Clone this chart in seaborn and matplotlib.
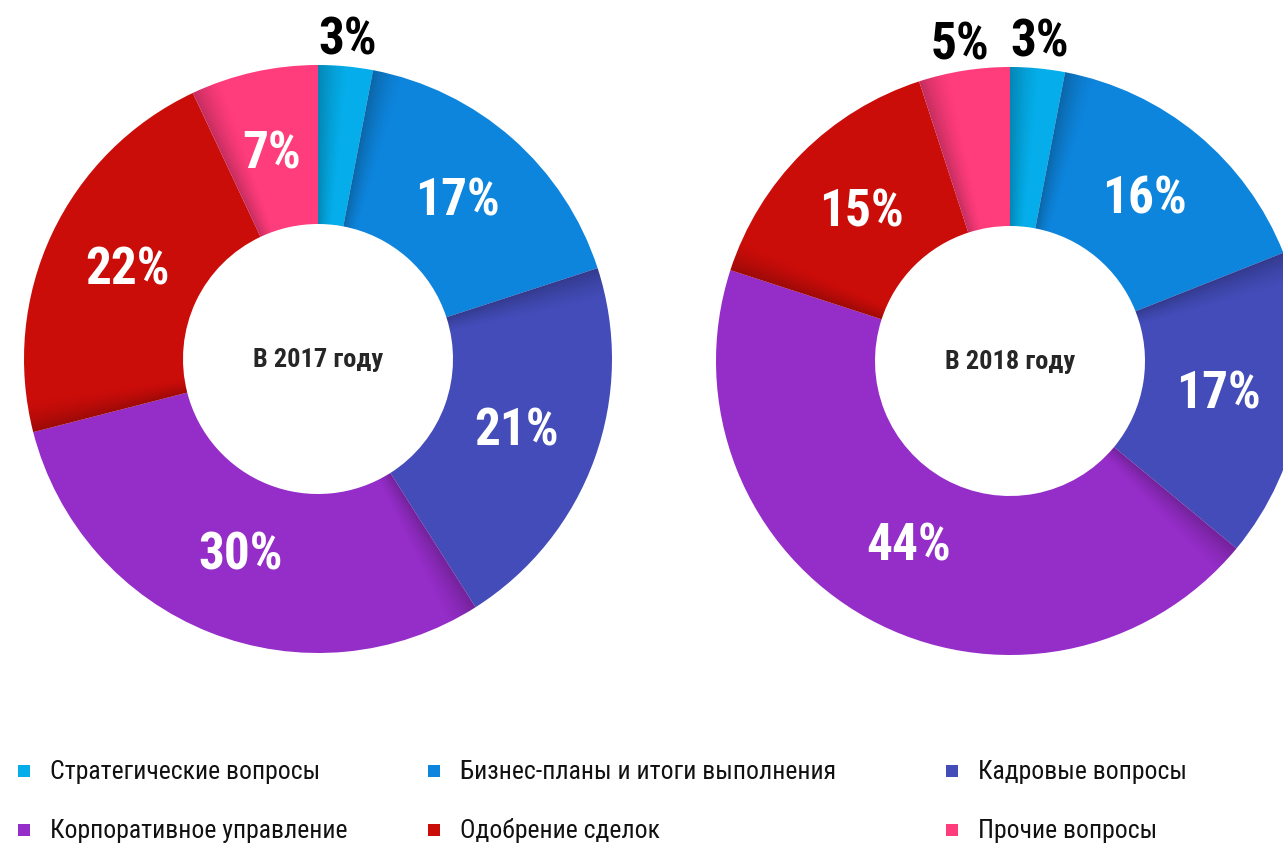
#!/usr/bin/env python3
"""
Board agenda structure 2017 vs 2018 — two donut charts
"""

import numpy as np
import matplotlib
matplotlib.use('Agg')
import matplotlib.pyplot as plt
from matplotlib.patches import Wedge
import seaborn as sns

# Data
categories = [
    'Стратегические вопросы', 'Бизнес-планы и итоги выполнения', 'Кадровые вопросы',
    'Корпоративное управление', 'Одобрение сделок', 'Прочие вопросы',
]
shares_2017 = [3, 17, 21, 30, 22, 7]
shares_2018 = [3, 16, 17, 44, 15, 5]
titles = ['В 2017 году', 'В 2018 году']
colors = ['#05aeea', '#0e85dc', '#434cb8', '#952dc8', '#cb0d0a', '#ff3c7c']

sns.set_style('white')
FONT = ['Roboto Condensed', 'DejaVu Sans']
plt.rcParams['font.family'] = FONT

W, H = 1283, 845
fig = plt.figure(figsize=(W / 100, H / 100), dpi=100)
ax = fig.add_axes([0, 0, 1, 1])
ax.set_xlim(0, W)
ax.set_ylim(0, H)
ax.set_aspect('equal')
ax.axis('off')


def donut(values, center, title):
    """Draw one donut with its percentage labels"""
    r_out, r_in = 294, 135
    wedges, _ = ax.pie(values, colors=colors, startangle=90, counterclock=False,
                       radius=r_out, center=center, frame=True,
                       wedgeprops=dict(width=r_out - r_in, linewidth=0))
    # soft shadow on the leading edge of every slice
    for w in wedges:
        span = min(6.0, (w.theta2 - w.theta1) * 0.6)
        steps = 12
        for k in range(steps):
            a2 = w.theta2 - span * k / steps
            ax.add_patch(Wedge(center, r_out, a2 - span / steps, a2,
                               width=r_out - r_in, color='black',
                               alpha=0.22 * (1 - k / steps) ** 1.5, linewidth=0))
    for w, v in zip(wedges, values):
        ang = np.deg2rad((w.theta1 + w.theta2) / 2)
        if v <= 5:
            # small slices get a black label outside
            r, col = r_out * 1.09, 'black'
        else:
            r, col = r_out * 0.717, 'white'
        ax.text(center[0] + r * np.cos(ang), center[1] + r * np.sin(ang), f'{v}%',
                ha='center', va='center', color=col, fontsize=37,
                fontweight='bold', fontstretch='condensed')
    ax.text(center[0], center[1], title, ha='center', va='center',
            fontsize=19, fontweight='bold', fontstretch='condensed')


donut(shares_2017, (318, H - 360), titles[0])
donut(shares_2018, (1010, H - 362), titles[1])
ax.set_xlim(0, W)
ax.set_ylim(0, H)
ax.axis('off')

# Legend, two rows x three columns
col_x = [24, 434, 952]
row_y = [H - 772, H - 831]
for i, (name, c) in enumerate(zip(categories, colors)):
    x, y = col_x[i % 3], row_y[i // 3]
    ax.scatter([x], [y], marker='s', s=80, color=c, linewidths=0)
    ax.text(x + 26, y, name, ha='left', va='center', fontsize=18.5,
            fontstretch='condensed', color='#111111')

fig.savefig('out.png', dpi=100)
